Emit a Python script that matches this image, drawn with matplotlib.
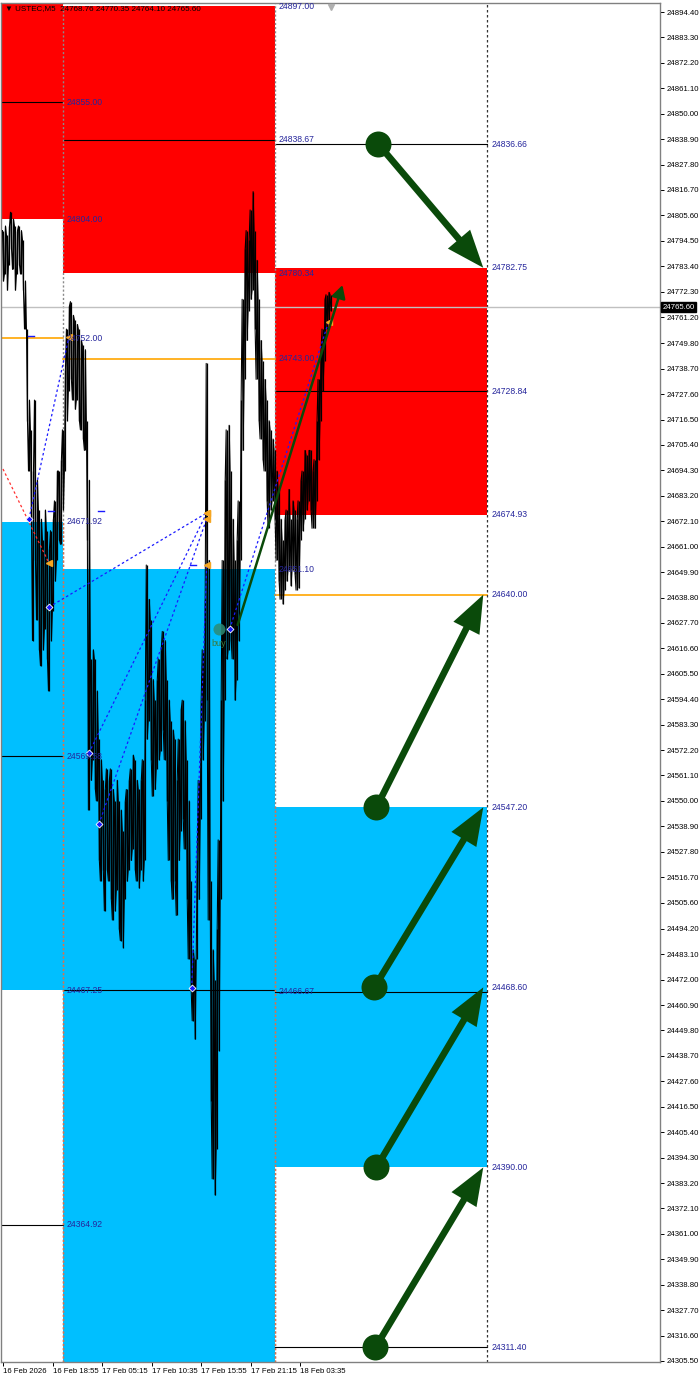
import numpy as np
import matplotlib
matplotlib.use('Agg')
import matplotlib.pyplot as plt
from matplotlib.patches import FancyArrowPatch, ArrowStyle
import matplotlib.transforms as mtransforms

# ---------------- data ----------------
symbol = "USTEC,M5"
ohlc = [24768.76, 24770.35, 24764.10, 24765.60]
last_price = 24765.60

# price path: high / low per column group of M5 bars
hi = [24799, 24801, 24797, 24801, 24807, 24804, 24801, 24799, 24801, 24799,
      24795, 24777, 24756, 24725, 24712, 24694, 24725, 24690, 24677, 24673,
      24664, 24677, 24668, 24660, 24668, 24673, 24681, 24694, 24694, 24699,
      24712, 24738, 24756, 24766, 24768, 24762, 24760, 24758, 24756, 24751,
      24749, 24747, 24716, 24690, 24612, 24616, 24612, 24598, 24577, 24568,
      24559, 24555, 24564, 24559, 24564, 24555, 24550, 24559, 24550, 24546,
      24537, 24550, 24555, 24559, 24564, 24570, 24568, 24559, 24555, 24559,
      24568, 24594, 24653, 24638, 24629, 24603, 24594, 24603, 24612, 24616,
      24624, 24620, 24603, 24594, 24585, 24581, 24577, 24559, 24577, 24590,
      24594, 24585, 24568, 24550, 24515, 24485, 24481, 24524, 24559, 24594,
      24616, 24638, 24741, 24655, 24515, 24485, 24472, 24494, 24533, 24594,
      24655, 24690, 24712, 24714, 24694, 24673, 24655, 24664, 24681, 24725,
      24769, 24791, 24799, 24795, 24808, 24816, 24799, 24786, 24769, 24751,
      24742, 24734, 24725, 24716, 24712, 24708, 24703, 24694, 24686, 24673,
      24664, 24673, 24677, 24686, 24673, 24681, 24677, 24673, 24681, 24690,
      24694, 24703, 24701, 24703, 24703, 24694, 24699, 24716, 24734, 24747,
      24756, 24769, 24771, 24772, 24771]
lo = [24777, 24780, 24773, 24784, 24791, 24782, 24773, 24780, 24784, 24780,
      24773, 24756, 24716, 24694, 24673, 24620, 24655, 24629, 24616, 24609,
      24616, 24625, 24612, 24598, 24620, 24633, 24646, 24655, 24664, 24662,
      24677, 24694, 24716, 24729, 24734, 24725, 24721, 24725, 24716, 24712,
      24708, 24703, 24664, 24546, 24559, 24568, 24555, 24550, 24524, 24515,
      24520, 24502, 24520, 24515, 24507, 24498, 24502, 24511, 24494, 24489,
      24486, 24507, 24515, 24520, 24524, 24529, 24520, 24515, 24512, 24520,
      24515, 24524, 24577, 24585, 24568, 24552, 24555, 24564, 24568, 24572,
      24581, 24568, 24550, 24524, 24515, 24507, 24515, 24500, 24524, 24537,
      24542, 24529, 24507, 24481, 24467, 24454, 24446, 24481, 24507, 24542,
      24568, 24585, 24594, 24498, 24419, 24385, 24378, 24398, 24441, 24507,
      24550, 24594, 24612, 24616, 24620, 24612, 24594, 24603, 24620, 24655,
      24703, 24734, 24751, 24764, 24769, 24773, 24756, 24734, 24716, 24708,
      24699, 24694, 24681, 24669, 24677, 24681, 24673, 24655, 24646, 24638,
      24636, 24642, 24646, 24651, 24644, 24651, 24649, 24642, 24643, 24664,
      24668, 24673, 24677, 24681, 24677, 24669, 24669, 24681, 24699, 24716,
      24729, 24742, 24756, 24760, 24764]

time_labels = ["16 Feb 2026", "16 Feb 18:55", "17 Feb 05:15", "17 Feb 10:35",
               "17 Feb 15:55", "17 Feb 21:15", "18 Feb 03:35"]
time_label_pos = [0, 24.8, 49.5, 74.5, 99.25, 124, 148.8]

y_ticks = [24894.40, 24883.30, 24872.20, 24861.10, 24850.00, 24838.90, 24827.80,
           24816.70, 24805.60, 24794.50, 24783.40, 24772.30, 24761.20, 24749.80,
           24738.70, 24727.60, 24716.50, 24705.40, 24694.30, 24683.20, 24672.10,
           24661.00, 24649.90, 24638.80, 24627.70, 24616.60, 24605.50, 24594.40,
           24583.30, 24572.20, 24561.10, 24550.00, 24538.90, 24527.80, 24516.70,
           24505.60, 24494.20, 24483.10, 24472.00, 24460.90, 24449.80, 24438.70,
           24427.60, 24416.50, 24405.40, 24394.30, 24383.20, 24372.10, 24361.00,
           24349.90, 24338.80, 24327.70, 24316.60, 24305.50]

# three analysis windows (column boundaries)
window_edges = [-1, 30, 136, 242.5]
red_top = [24905.00, 24897.00, 24782.75]
red_bottom = [24804.00, 24780.34, 24674.93]
blue_top = [24671.92, 24651.10, 24547.20]
blue_bottom = [24467.25, 24290.00, 24390.00]

black_levels = [[24855.00, 24569.58, 24364.92],
                [24838.67, 24467.25],
                [24836.66, 24728.84, 24466.67, 24311.40]]
orange_levels = [24752.00, 24743.00, 24640.00]

labels_w0 = [24855.00, 24804.00, 24752.00, 24671.92, 24569.58, 24467.25, 24364.92]
labels_w1 = [24897.00, 24838.67, 24780.34, 24743.00, 24651.10, 24466.67]
labels_w2 = [24836.66, 24782.75, 24728.84, 24674.93, 24640.00, 24547.20,
             24468.60, 24390.00, 24311.40]

# projection arrows (from level -> to level)
proj_from = [24836.66, 24547.20, 24468.60, 24390.00, 24311.40]
proj_to = [24782.75, 24640.00, 24547.20, 24468.60, 24390.00]
proj_x0 = [188, 187, 186, 187, 186.5]
proj_x1 = 240.5

# trade history (entry col, entry price, exit col, exit price)
trades = [(13, 24673.1, 33, 24752.5),
          (23, 24634.6, 102, 24675.7),
          (43, 24570.9, 102, 24675.7),
          (48, 24539.9, 102, 24673.1),
          (94.5, 24468.3, 102, 24653.0),
          (113.5, 24625.0, 163, 24759.0)]
red_trade = (0, 24694.9, 23, 24653.9)
buy_signal = (108, 24625.0)
buy_arrow = (117.5, 24626.8, 170, 24775.2)

# ---------------- drawing ----------------
W, H = 700, 1378
fig = plt.figure(figsize=(W / 100, H / 100), dpi=100)
ax = fig.add_axes([1 / W, (H - 1362) / H, 659 / W, (1362 - 3) / H])
ax.set_xlim(-1, 329)
ax.set_ylim(24305.06, 24898.33)

RED = '#ff0000'
BLUE = '#00bfff'
LBL = '#26269c'
GREEN = '#0a4a0a'
FONT = ['Liberation Sans', 'DejaVu Sans']

for i in range(3):
    x0, x1 = window_edges[i], window_edges[i + 1]
    ax.fill_between([x0, x1], red_bottom[i], red_top[i], color=RED, lw=0, zorder=1)
    ax.fill_between([x0, x1], blue_bottom[i], blue_top[i], color=BLUE, lw=0, zorder=1)
    for lv in black_levels[i]:
        ax.plot([x0, x1], [lv, lv], color='black', lw=0.8, zorder=2)
    ax.plot([x0, x1], [orange_levels[i]] * 2, color='#ffa500', lw=1.2, zorder=2)

# separators
ax.axvline(window_edges[1], color='#8a8a8a', lw=1, ls=(0, (1.5, 1.5)), zorder=2)
ax.axvline(window_edges[2], color='#8a8a8a', lw=1, ls=(0, (1.5, 1.5)), zorder=2)
ax.plot([window_edges[1]] * 2, [24290, blue_top[0]], color='#e0704a', lw=1,
        ls=(0, (1.5, 1.5)), zorder=2)
ax.plot([window_edges[2]] * 2, [24290, blue_top[2]], color='#e0704a', lw=1,
        ls=(0, (1.5, 1.5)), zorder=2)
ax.axvline(window_edges[3], color='#333333', lw=0.9, ls=(0, (2, 2)), zorder=2)

# current price line
ax.axhline(last_price, color='#c0c0c0', lw=1, zorder=2)

# price path (zig-zag between high and low of each column)
cols = np.arange(len(hi))
xs, ys = [], []
for i in cols:
    if i % 2 == 0:
        xs += [i - 0.25, i + 0.25]
        ys += [hi[i], lo[i]]
    else:
        xs += [i - 0.25, i + 0.25]
        ys += [lo[i], hi[i]]
ax.vlines(cols, lo, hi, color='black', lw=0.9, zorder=3)
ax.plot(xs, ys, color='black', lw=0.75, zorder=3)

# trades
for (xa, ya, xb, yb) in trades:
    ax.plot([xa, xb], [ya, yb], color='#1a1aff', lw=0.9, ls=(0, (2, 2)), zorder=4)
    ax.plot(xa, ya, marker='D', ms=3.5, color='#1a1aff', mec='white', mew=0.6, zorder=5)
    ax.plot(xb, yb, marker='<', ms=4, color='#f5a623', zorder=5)
ax.plot([red_trade[0], red_trade[2]], [red_trade[1], red_trade[3]], color='#ff3030',
        lw=0.9, ls=(0, (2, 2)), zorder=4)
ax.plot(red_trade[2], red_trade[3], marker='<', ms=4, color='#f5a623', zorder=5)
for (xd, yd) in [(14, 24752.8), (24, 24676.5), (49, 24676.5), (95, 24653.0)]:
    ax.plot([xd - 1.5, xd + 1.5], [yd, yd], color='#1a1aff', lw=1, zorder=4)

# buy signal
ax.scatter([buy_signal[0]], [buy_signal[1]], s=75, color='#2e8b74', alpha=0.85, zorder=5, lw=0)
ax.text(buy_signal[0], buy_signal[1] - 4.5, 'buy', color='#3c7a3c', fontsize=6.5,
        family=FONT, ha='center', va='top', zorder=5)
ax.add_patch(FancyArrowPatch((buy_arrow[0], buy_arrow[1]), (buy_arrow[2], buy_arrow[3]),
                             arrowstyle=ArrowStyle('-|>', head_length=0.55, head_width=0.3),
                             mutation_scale=14, color=GREEN, lw=1.8, zorder=6,
                             shrinkA=0, shrinkB=0))

# projection arrows
for xa, ya, yb in zip(proj_x0, proj_from, proj_to):
    ax.add_patch(FancyArrowPatch((xa, ya), (proj_x1, yb),
                                 arrowstyle=ArrowStyle('simple', head_length=1.35,
                                                       head_width=1.05, tail_width=0.24),
                                 mutation_scale=20, color=GREEN, lw=0, zorder=6,
                                 shrinkA=0, shrinkB=0))
    ax.scatter([xa], [ya], s=350, color=GREEN, zorder=7, lw=0)

# level labels
for xs_lab, vals in [(window_edges[1] + 2, labels_w0), (window_edges[2] + 2, labels_w1),
                     (window_edges[3] + 2, labels_w2)]:
    for v in vals:
        ax.text(xs_lab, v, f"{v:.2f}", color=LBL, fontsize=6.2, family=FONT,
                ha='left', va='center', zorder=8)

# title
ax.text(0.006, 0.9985, "\u25bc " + symbol + "  " + " ".join(f"{v:.2f}" for v in ohlc),
        transform=ax.transAxes, fontsize=5.8, family=FONT, ha='left', va='top',
        color='black', zorder=9)
ax.plot([164], [24896.6], marker='v', ms=5, color='#b0b0b0', zorder=9, clip_on=False)

# axes styling
for sp in ax.spines.values():
    sp.set_color('#808080')
    sp.set_linewidth(1)
ax.yaxis.tick_right()
ax.set_yticks(y_ticks)
ax.set_yticklabels([f"{v:.2f}" for v in y_ticks])
ax.tick_params(axis='y', length=3, width=0.7, pad=2, labelsize=5.6, colors='black')
ax.set_xticks(time_label_pos)
ax.set_xticklabels(time_labels)
ax.tick_params(axis='x', length=3, width=0.7, pad=1.5, labelsize=5.6)
for lab in ax.get_xticklabels() + ax.get_yticklabels():
    lab.set_family(FONT)
for lab in ax.get_xticklabels():
    lab.set_horizontalalignment('left')

trans = mtransforms.blended_transform_factory(ax.transAxes, ax.transData)
ax.text(1.004, last_price, f"{last_price:.2f}", transform=trans, fontsize=5.6,
        family=FONT, color='white', ha='left', va='center', zorder=10,
        bbox=dict(boxstyle='square,pad=0.15', fc='black', ec='black'))

fig.savefig('out.png', dpi=100, facecolor='white')
